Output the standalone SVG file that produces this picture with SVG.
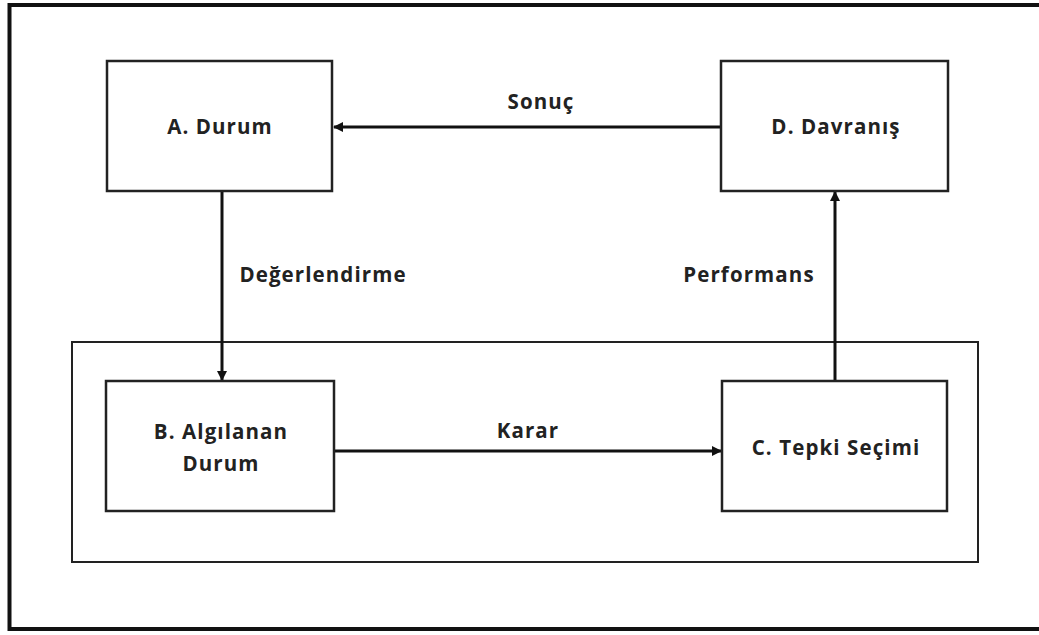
<svg xmlns="http://www.w3.org/2000/svg" width="1039" height="635" viewBox="0 0 1039 635">
<defs>
<style>
.box{fill:#fff;stroke:#222;stroke-width:2.5}
.frame{fill:none;stroke:#222;stroke-width:2}
.outer{fill:none;stroke:#111;stroke-width:4}
.line{fill:none;stroke:#111;stroke-width:3}
text{font-family:"Open Sans","Liberation Sans",sans-serif;font-weight:bold;font-size:20.5px;letter-spacing:1.1px;fill:#222;text-anchor:middle}
</style>
<marker id="ah" markerWidth="10" markerHeight="10" refX="9" refY="5" orient="auto" markerUnits="userSpaceOnUse">
<path d="M0,0 L10,5 L0,10 Z" fill="#111"/>
</marker>
</defs>
<rect width="1039" height="635" fill="#fff"/>
<rect id="outer" class="outer" x="9.5" y="5" width="1040" height="624"/>
<g id="container"><rect class="frame" x="72" y="342" width="906" height="220"/></g>
<g id="connectors">
<line class="line" x1="720" y1="127" x2="334" y2="127" marker-end="url(#ah)"/>
<line class="line" x1="222" y1="191" x2="222" y2="380" marker-end="url(#ah)"/>
<line class="line" x1="335" y1="451" x2="721" y2="451" marker-end="url(#ah)"/>
<line class="line" x1="835" y1="381" x2="835" y2="192" marker-end="url(#ah)"/>
<text x="541" y="109">Sonuç</text>
<text x="323" y="282">Değerlendirme</text>
<text x="749" y="282">Performans</text>
<text x="528" y="438">Karar</text>
</g>
<g id="nodeA"><rect class="box" x="107" y="61" width="225" height="130"/><text x="220" y="134">A. Durum</text></g>
<g id="nodeD"><rect class="box" x="721" y="61" width="227" height="130"/><text x="836" y="134">D. Davranış</text></g>
<g id="nodeB"><rect class="box" x="106" y="381" width="228" height="130"/><text x="221" y="439">B. Algılanan</text><text x="221" y="471">Durum</text></g>
<g id="nodeC"><rect class="box" x="722" y="381" width="225" height="130"/><text x="836" y="455">C. Tepki Seçimi</text></g>
</svg>
